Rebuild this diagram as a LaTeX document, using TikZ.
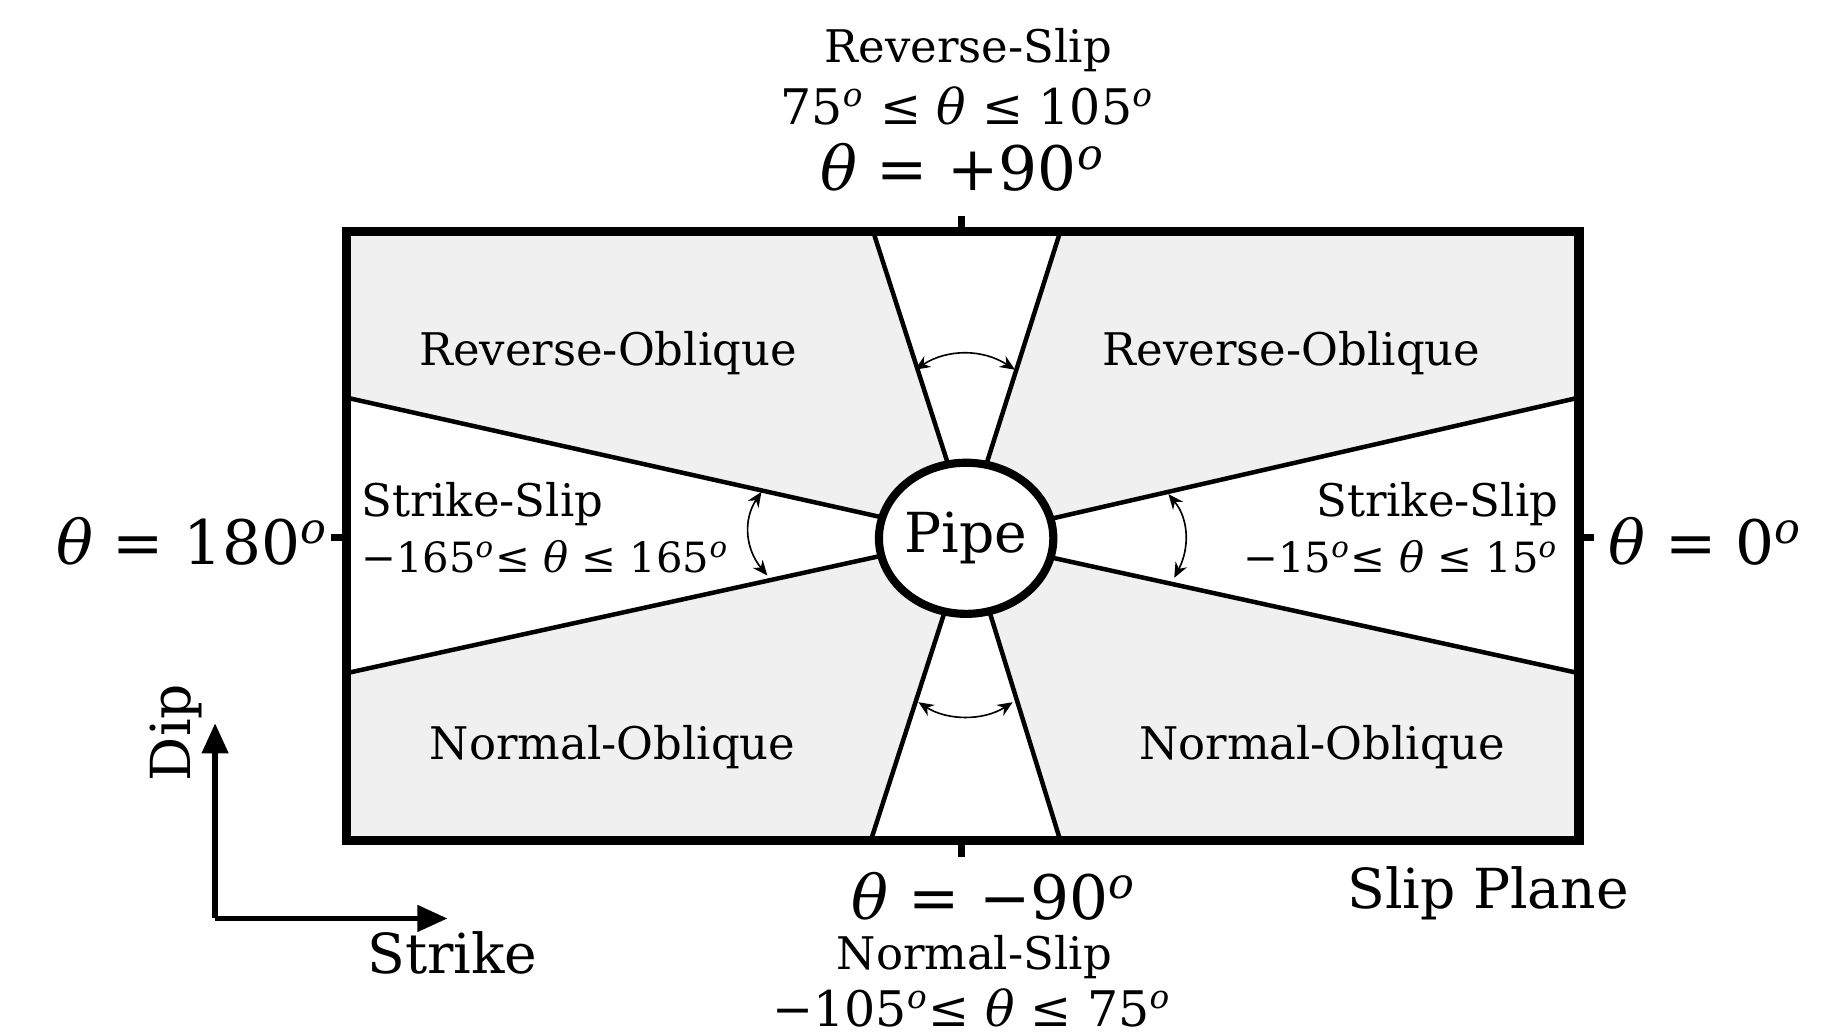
\documentclass[tikz,border=0pt]{standalone}
\usepackage{fontspec}
\setmainfont{DejaVu Serif}
\usepackage{tikz}
\usetikzlibrary{arrows.meta,shapes.geometric}

\definecolor{planegray}{RGB}{240,240,240}
\newcommand{\thet}{\textit{θ}}
\newcommand{\dg}{\textsuperscript{\textit{o}}}

\begin{document}
\begin{tikzpicture}[x=0.1mm, y=-0.1mm,
	every node/.style={inner sep=0pt, font=\fontsize{11}{13}\selectfont},
	big/.style={font=\fontsize{15}{18}\selectfont},
	mid/.style={font=\fontsize{13.5}{16}\selectfont},
	sidelimits/.style={font=\fontsize{10.2}{12}\selectfont},
	wedge/.style={line width=1.1pt},
	angarrow/.style={thin, {Stealth[length=1.3mm,width=1.1mm]}-{Stealth[length=1.3mm,width=1.1mm]}},
	tick/.style={line width=0.6mm}]
	\useasboundingbox (0,0) rectangle (1568,891);
	% slip plane and the white wedges
	\fill[planegray] (298,199) rectangle (1358,723);
	\fill[white] (751,199) -- (912,199) -- (849,398) -- (831,465) -- (815,398) -- cycle;
	\fill[white] (749,723) -- (811,530) -- (831,465) -- (852,530) -- (912,723) -- cycle;
	\fill[white] (298,342) -- (757,445) -- (831,465) -- (757,478) -- (298,579) -- cycle;
	\fill[white] (1358,342) -- (908,445) -- (831,465) -- (908,480) -- (1358,579) -- cycle;
	\draw[wedge] (751,199) -- (826,432);
	\draw[wedge] (912,199) -- (838,432);
	\draw[wedge] (749,723) -- (821,500);
	\draw[wedge] (912,723) -- (843,500);
	\draw[wedge] (298,342) -- (790,452);
	\draw[wedge] (298,579) -- (790,471);
	\draw[wedge] (1358,342) -- (870,454);
	\draw[wedge] (1358,579) -- (870,472);
	\draw[line width=0.8mm] (298,199) rectangle (1358,723);
	% ticks on the frame
	\draw[tick] (827,199) -- (827,186);
	\draw[tick] (827,723) -- (827,737);
	\draw[tick] (298,462) -- (285,462);
	\draw[tick] (1358,462) -- (1371,462);
	% the pipe
	\node[ellipse, draw, line width=0.7mm, fill=white, minimum width=15.0mm, minimum height=13.0mm, mid] (pipe) at (831,463) {Pipe};
	% angle arcs
	\draw[angarrow] (787,318) .. controls (815,300) and (845,300) .. (873,318);
	\draw[angarrow] (790,604) .. controls (815,620) and (846,620) .. (871,604);
	\draw[angarrow] (655,423) .. controls (639,447) and (641,472) .. (660,495);
	\draw[angarrow] (1005,425) .. controls (1023,447) and (1023,472) .. (1010,497);
	% region labels
	\node (roleft) at (523,304) {Reverse-Oblique};
	\node (roright) at (1111,304) {Reverse-Oblique};
	\node (noleft) at (527,643) {Normal-Oblique};
	\node (noright) at (1137,643) {Normal-Oblique};
	\node[anchor=west] (ssleft) at (310,434) {Strike-Slip};
	\node[anchor=west, sidelimits] (ssleftrange) at (310,479) {−165\dg≤ \thet{} ≤ 165\dg};
	\node[anchor=east] (ssright) at (1341,434) {Strike-Slip};
	\node[anchor=east, sidelimits] (ssrightrange) at (1341,479) {−15\dg≤ \thet{} ≤ 15\dg};
	% angle labels around the plane
	\node[big, anchor=east] (left) at (283,466) {\thet{} = 180\dg};
	\node[big, anchor=west] (right) at (1383,466) {\thet{} = 0\dg};
	\node (rs) at (833,43) {Reverse-Slip};
	\node[font=\fontsize{12}{14}\selectfont] (rsrange) at (832,91) {75\dg{} ≤ \thet{} ≤ 105\dg};
	\node[big] (top) at (828,144) {\thet{} = +90\dg};
	\node[big] (bottom) at (855,771) {\thet{} = −90\dg};
	\node (ns) at (838,823) {Normal-Slip};
	\node[font=\fontsize{12}{14}\selectfont] (nsrange) at (836,867) {−105\dg≤ \thet{} ≤ 75\dg};
	\node[mid] (plane) at (1280,768) {Slip Plane};
	% strike and dip directions
	\coordinate (corner) at (185,790);
	\coordinate (dipend) at (185,622);
	\coordinate (strikeend) at (385,790);
	\draw[line width=0.5mm, -{Triangle[length=2.6mm,width=2.2mm]}] (corner) -- (dipend);
	\draw[line width=0.5mm, -{Triangle[length=2.6mm,width=2.2mm]}] (corner) -- (strikeend);
	\node[mid] (strike) at (389,820) {Strike};
	\node[mid, rotate=90] (dip) at (151,630) {Dip};
\end{tikzpicture}
\end{document}
